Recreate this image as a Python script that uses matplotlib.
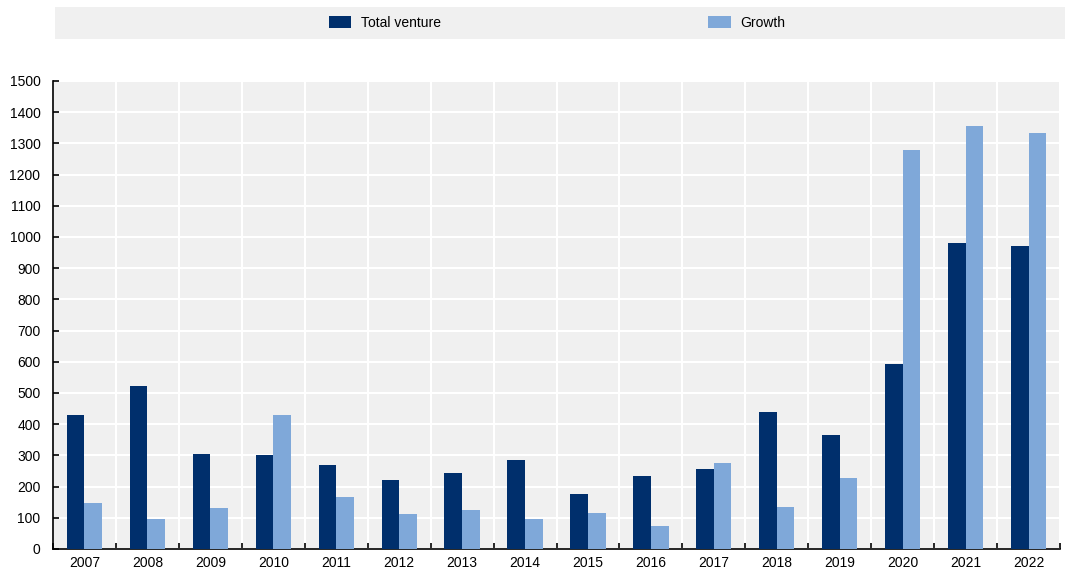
import matplotlib.pyplot as plt
import numpy as np
from matplotlib.patches import Rectangle

plt.rcParams['font.family'] = ['Liberation Sans Narrow', 'Liberation Sans', 'DejaVu Sans']
plt.rcParams['xtick.direction'] = 'in'
plt.rcParams['ytick.direction'] = 'in'

years = ["2007", "2008", "2009", "2010", "2011", "2012", "2013", "2014",
         "2015", "2016", "2017", "2018", "2019", "2020", "2021", "2022"]
total_venture = [429, 524, 303, 301, 270, 222, 243, 286,
                 177, 234, 255, 439, 365, 592, 982, 972]
growth = [146, 95, 131, 430, 168, 113, 124, 96,
          116, 75, 277, 134, 226, 1279, 1357, 1333]

dark = "#002F6C"
light = "#7FA8D9"
bg = "#F0F0F0"

fig = plt.figure(figsize=(10.65, 5.71), dpi=100)
ax = fig.add_axes([53 / 1065, 22 / 571, (1060 - 53) / 1065, (549 - 81) / 571])
ax.set_facecolor(bg)

x = np.arange(len(years))
w = 0.28
ax.bar(x - w / 2, total_venture, w, color=dark, label="Total venture", zorder=3)
ax.bar(x + w / 2, growth, w, color=light, label="Growth", zorder=3)

ax.set_xlim(-0.5, len(years) - 0.5)
ax.set_ylim(0, 1500)
ax.set_yticks(np.arange(0, 1501, 100))
ax.set_xticks(x)
ax.set_xticklabels(years)
ax.set_xticks(np.arange(-0.5, len(years)), minor=True)

ax.grid(axis="y", color="white", linewidth=1.5, zorder=1)
ax.grid(axis="x", which="minor", color="white", linewidth=1.5, zorder=1)
ax.set_axisbelow(True)

for s in ["top", "right"]:
    ax.spines[s].set_visible(False)
for s in ["left", "bottom"]:
    ax.spines[s].set_color("black")
    ax.spines[s].set_linewidth(1.2)

ax.tick_params(axis="y", direction="in", length=4, width=1.2, labelsize=10, pad=9)
ax.tick_params(axis="x", which="major", length=0, labelsize=10, pad=5)
ax.tick_params(axis="x", which="minor", direction="in", length=4, width=1.2)

# legend band
fig.patches.append(Rectangle((55 / 1065, 1 - 39 / 571), 1 - 55 / 1065, 32 / 571,
                             transform=fig.transFigure, facecolor=bg,
                             edgecolor="none", zorder=0))
fig.legend(loc="center left", bbox_to_anchor=(316 / 1065, 1 - 23 / 571), ncol=2,
           frameon=False, fontsize=10, handlelength=1.65, handleheight=0.95,
           handletextpad=0.7, columnspacing=19.2)

fig.savefig("out.png", dpi=100)
